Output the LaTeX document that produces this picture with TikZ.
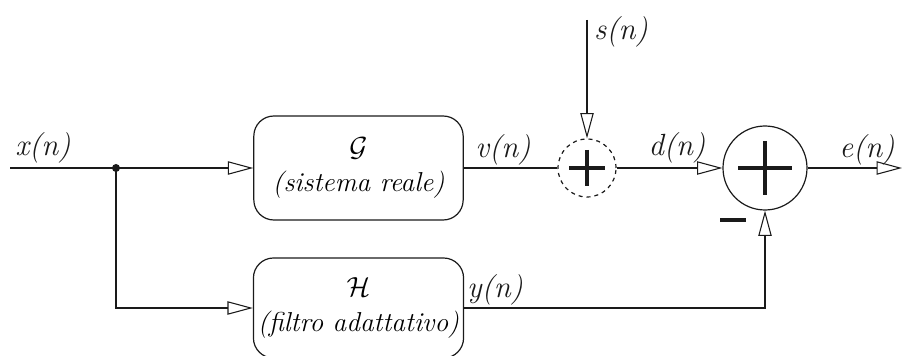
\documentclass[tikz,border=0pt]{standalone}
\usepackage{amsmath,amssymb}
\usepackage{tikz}
\usetikzlibrary{arrows.meta,positioning,calc}
\definecolor{ink}{HTML}{1A1A1A}

\tikzset{
  sig/.style={line width=0.9pt, draw=ink},
  flow/.style={sig, -{Triangle[open, length=19pt, width=10pt, line width=0.8pt]}},
  blockbox/.style={draw=ink, line width=0.9pt, rounded corners=15pt,
    minimum width=157pt, align=center, font=\fontsize{20.5}{26}\selectfont\itshape},
  lbl/.style={text=ink, font=\fontsize{23}{26}\selectfont\itshape, inner sep=0pt},
  sumnode/.style={circle, draw=ink, line width=0.9pt, inner sep=0pt}
}

\begin{document}
\begin{tikzpicture}[x=0.75pt, y=-0.75pt]
    \useasboundingbox (0,0) rectangle (903,356);

    % blocks
    \node[blockbox, minimum height=78pt] (G) at (358.5,168)
      {$\mathcal{G}$\\(sistema reale)};
    \node[blockbox, minimum height=75pt] (H) at (358.5,308)
      {$\mathcal{H}$\\(filtro adattativo)};

    % summing nodes
    \node[sumnode, dashed, minimum size=43.5pt] (S1) at (587,168) {};
    \node[sumnode, minimum size=63pt] (S2) at (765,168) {};
    \draw[line width=3pt, ink] ($(S1.center)+(-18,0)$) -- ($(S1.center)+(18,0)$)
      ($(S1.center)+(0,-18)$) -- ($(S1.center)+(0,18)$);
    \draw[line width=3.6pt, ink] ($(S2.center)+(-27,0)$) -- ($(S2.center)+(27,0)$)
      ($(S2.center)+(0,-27)$) -- ($(S2.center)+(0,27)$);
    \draw[line width=3.6pt, ink] (720,220) -- (746,220);

    % free ends
    \coordinate (xin) at (10,168);
    \coordinate (jn) at (116,168);
    \coordinate (sin) at (587,20);
    \coordinate (eout) at (902,168);

    % connectors
    \draw[sig] (xin) -- (jn);
    \fill[ink] (jn) circle (3pt);
    \draw[flow] (jn) -- (G.west);
    \draw[flow] (jn) |- (H.west);
    \draw[sig] (G.east) -- (S1.west);
    \draw[flow] (sin) -- (S1.north);
    \draw[flow] (S1.east) -- (S2.west);
    \draw[flow] (S2.east) -- (eout);
    \draw[flow] (H.east) -| (S2.south);

    % labels
    \node[lbl] (xlab) at (43,148) {x(n)};
    \node[lbl] (vlab) at (503,150) {v(n)};
    \node[lbl] (slab) at (621,32) {s(n)};
    \node[lbl] (dlab) at (677,148) {d(n)};
    \node[lbl] (elab) at (867,150) {e(n)};
    \node[lbl] (ylab) at (495,290) {y(n)};
  \end{tikzpicture}
\end{document}
